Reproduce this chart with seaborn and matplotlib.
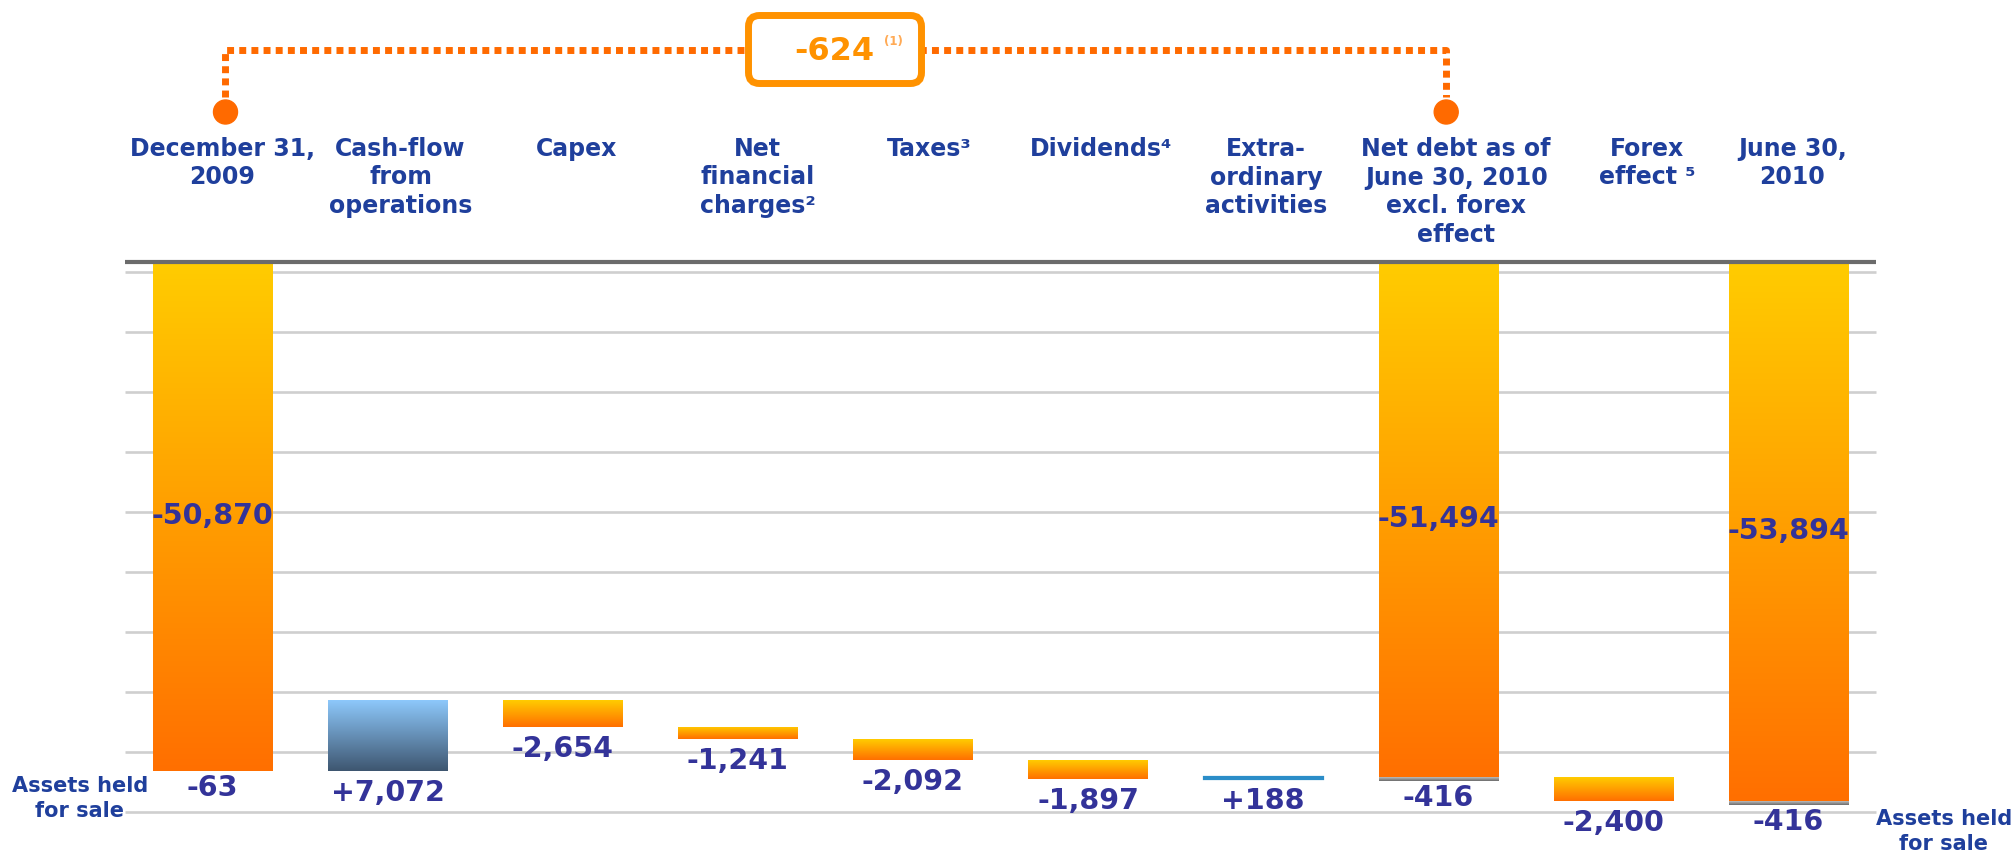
import numpy as np
import pandas as pd
import matplotlib
matplotlib.use("Agg")
import matplotlib.pyplot as plt
import matplotlib.transforms as mtransforms
from matplotlib.colors import LinearSegmentedColormap
from matplotlib.patches import FancyBboxPatch, Circle
from matplotlib.lines import Line2D
import seaborn as sns

# ---------------- data ----------------
steps = ["December 31,\n2009", "Cash-flow\nfrom\noperations", "Capex",
         "Net\nfinancial\ncharges\u00b2", "Taxes\u00b3", "Dividends\u2074",
         "Extra-\nordinary\nactivities",
         "Net debt as of\nJune 30, 2010\nexcl. forex\neffect",
         "Forex\neffect \u2075", "June 30,\n2010"]
values = [-50870, 7072, -2654, -1241, -2092, -1897, 188, -51494, -2400, -53894]
is_total = [True, False, False, False, False, False, False, True, False, True]
assets_held = [-63, 0, 0, 0, 0, 0, 0, -416, 0, -416]
bracket_value = "-624"
bracket_note = "(1)"
assets_label = "Assets held\nfor sale"
gridline_values = [-1000, -7000, -13000, -19000, -25000, -31000,
                   -37000, -43000, -49000, -55000]

# ---------------- style ----------------
bar_style = ["neg", "pos", "neg", "neg", "neg", "neg", "thin", "neg", "neg", "neg"]
header_dx_px = [10, 13, 14, 20, 16, 13, 3, 18, 34, 4]
C_VAL = "#333399"
C_HDR = "#1F3F9C"
C_ORANGE_DOT = "#FF6A00"
C_ORANGE_BOX = "#FF9200"

# waterfall geometry
starts, ends = [], []
running = 0
for v, t in zip(values, is_total):
    s = 0 if t else running
    e = v if t else running + v
    starts.append(s)
    ends.append(e)
    running = e

df = pd.DataFrame({"step": steps,
                   "delta": [e - s for s, e in zip(starts, ends)]})
df_assets = pd.DataFrame({"step": steps, "assets": assets_held})

W, H = 2015, 851
fig = plt.figure(figsize=(W / 100, H / 100), dpi=100)
ax = fig.add_axes([0, 0, 1, 1])
plt.rcParams['font.family'] = ['DejaVu Sans']

# pixel transform (reference image coords, origin top-left)
pix = mtransforms.Affine2D().scale(1 / W, -1 / H).translate(0, 1) + fig.transFigure
xdata_ypix = mtransforms.blended_transform_factory(ax.transData, pix)

# ---- bars through seaborn ----
n0 = len(ax.patches)
sns.barplot(data=df, x="step", y="delta", order=steps, color="#FFCC00",
            saturation=1, width=0.68, errorbar=None, ax=ax, zorder=2)
main_patches = ax.patches[n0:n0 + len(steps)]
for p, s in zip(main_patches, starts):
    p.set_y(s)

n1 = len(ax.patches)
sns.barplot(data=df_assets, x="step", y="assets", order=steps, color="#A0A0A0",
            saturation=1, width=0.68, errorbar=None, ax=ax, zorder=2)
asset_patches = ax.patches[n1:n1 + len(steps)]
for p, e in zip(asset_patches, ends):
    p.set_y(e)

GRADS = {"neg": ("#FFCC00", "#FF6F00"),
         "pos": ("#8DC8FB", "#3E5670"),
         "gray": ("#D2D2D2", "#6A6A6A")}


def grad_fill(patch, c_top, c_bot):
    x0, w = patch.get_x(), patch.get_width()
    y0, h = patch.get_y(), patch.get_height()
    lo, hi = min(y0, y0 + h), max(y0, y0 + h)
    if hi - lo <= 0:
        patch.set_visible(False)
        return
    cmap = LinearSegmentedColormap.from_list("g", [c_top, c_bot])
    grad = np.linspace(0, 1, 256).reshape(-1, 1)
    im = ax.imshow(grad, cmap=cmap, aspect="auto", extent=(x0, x0 + w, lo, hi),
                   origin="upper", interpolation="bilinear", zorder=2)
    im.set_clip_path(patch)
    patch.set_facecolor("none")
    patch.set_edgecolor("none")


for p, st in zip(main_patches, bar_style):
    if st == "thin":
        p.set_facecolor("#2B8DC8")
        p.set_edgecolor("#2B8DC8")
        p.set_linewidth(1.6)
    else:
        grad_fill(p, *GRADS[st])
for p in asset_patches:
    grad_fill(p, *GRADS["gray"])

# ---- gridlines ----
ax.hlines(gridline_values, -0.5, 9.5, colors="#CFCFCF", linewidth=1.9, zorder=1)
ax.hlines([0], -0.5, 9.5, colors="#6B6B6B", linewidth=3.0, zorder=3)

# ---- value labels ----
lab_kw = dict(fontsize=20.5, fontweight="bold", color=C_VAL, ha="center",
              va="center", zorder=5)
for i, (v, t, s, e) in enumerate(zip(values, is_total, starts, ends)):
    txt = f"{v:+,}" if not t else f"{v:,}"
    if t:
        ax.text(i, (s + e) / 2, txt, **lab_kw)
    else:
        ax.annotate(txt, xy=(i, min(s, e)), xytext=(0, -16),
                    textcoords="offset points", **lab_kw)
for i, (a, e) in enumerate(zip(assets_held, ends)):
    if a != 0:
        ax.annotate(f"{a:,}", xy=(i, e + a), xytext=(0, -12),
                    textcoords="offset points", **lab_kw)

# ---- headers ----
for i, (name, dx) in enumerate(zip(steps, header_dx_px)):
    for k, line in enumerate(name.split("\n")):
        ax.text(i + dx / 175.1, 149 + 28.5 * k, line, transform=xdata_ypix,
                fontsize=17, fontweight="bold", color=C_HDR,
                ha="center", va="center")

# ---- assets held for sale captions ----
for xc, y1 in [(80, 786), (1944, 819)]:
    for k, line in enumerate(assets_label.split("\n")):
        ax.text(xc, y1 + 25 * k, line, transform=pix, fontsize=15,
                fontweight="bold", color=C_HDR, ha="center", va="center")

# ---- bracket ----
xl = 212.5 + 175.1 * 0 + header_dx_px[0] + 3
xr = 212.5 + 175.1 * 7 + header_dx_px[7] - 10
br = Line2D([xl, xl, xr, xr], [97, 50, 50, 97], transform=pix,
            color=C_ORANGE_DOT, linewidth=5, linestyle=(0, (1.0, 0.75)),
            solid_capstyle="butt", dash_capstyle="butt", zorder=6)
fig.add_artist(br)
for xc in (xl, xr):
    fig.add_artist(Circle((xc, 112), 12, transform=pix, color=C_ORANGE_DOT,
                          zorder=7))
box = FancyBboxPatch((748.5, 15.5), 173, 68,
                     boxstyle="round,pad=0,rounding_size=11",
                     transform=pix, facecolor="white", edgecolor=C_ORANGE_BOX,
                     linewidth=5.0, zorder=8)
fig.add_artist(box)
fig.text(834.5, 51, bracket_value, transform=pix, fontsize=23,
         fontweight="bold", color=C_ORANGE_BOX, ha="center", va="center",
         zorder=9)
fig.text(893, 42, bracket_note, transform=pix, fontsize=8.5,
         fontweight="bold", color="#FFAA55", ha="center", va="center",
         zorder=9)

ax.set_xlim(-212.5 / 175.1, (W - 212.5) / 175.1)
ax.set_ylim(-(H - 262) * 100, 262 * 100)
ax.set_aspect("auto")
ax.axis("off")

fig.savefig("out.png", dpi=100, facecolor="white")
